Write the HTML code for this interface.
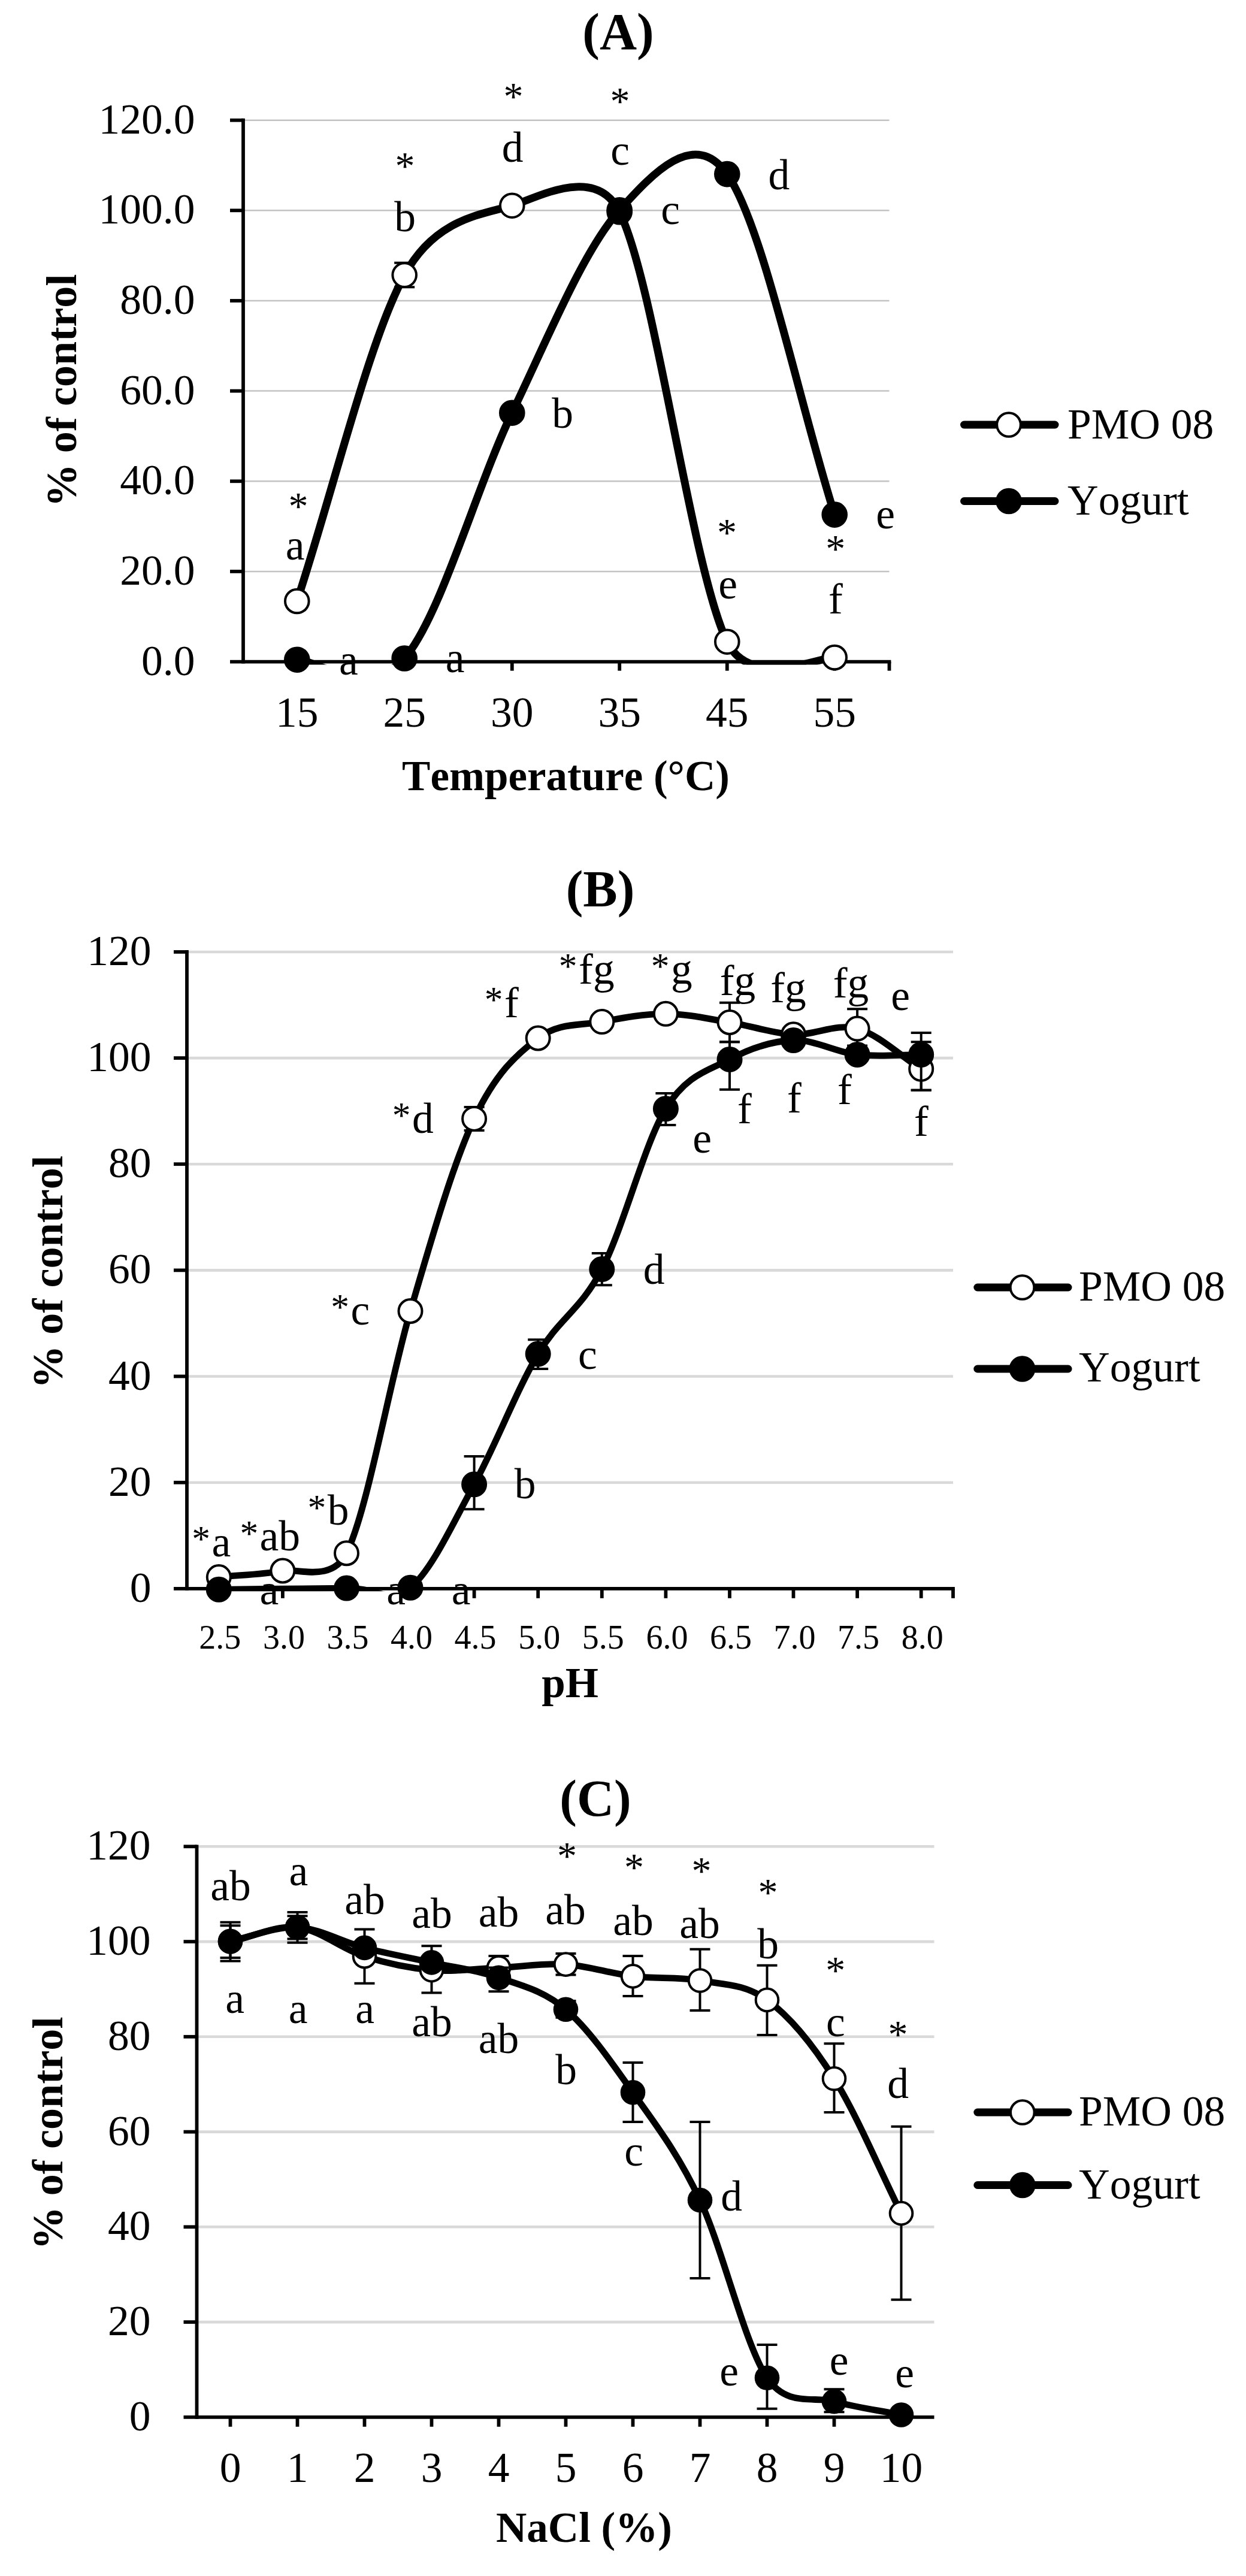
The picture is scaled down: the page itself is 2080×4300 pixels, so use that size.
<!DOCTYPE html>
<html><head><meta charset="utf-8"><title>Figure</title>
<style>
html,body{margin:0;padding:0;background:#fff;}
svg{display:block;}
text{font-family:"Liberation Serif",serif;fill:#000;font-kerning:none;}
</style></head><body>
<svg width="2080" height="4300" viewBox="0 0 2080 4300">
<rect width="2080" height="4300" fill="#fff"/>
<line x1="406.0" x2="1484.5" y1="953.9" y2="953.9" stroke="#c3c3c3" stroke-width="2.5"/>
<line x1="406.0" x2="1484.5" y1="803.3" y2="803.3" stroke="#c3c3c3" stroke-width="2.5"/>
<line x1="406.0" x2="1484.5" y1="652.6" y2="652.6" stroke="#c3c3c3" stroke-width="2.5"/>
<line x1="406.0" x2="1484.5" y1="502.0" y2="502.0" stroke="#c3c3c3" stroke-width="2.5"/>
<line x1="406.0" x2="1484.5" y1="351.3" y2="351.3" stroke="#c3c3c3" stroke-width="2.5"/>
<line x1="406.0" x2="1484.5" y1="200.7" y2="200.7" stroke="#c3c3c3" stroke-width="2.5"/>
<line x1="406.0" x2="406.0" y1="197.8" y2="1107.5" stroke="#000" stroke-width="5.8"/>
<line x1="384.0" x2="1487.4" y1="1104.6" y2="1104.6" stroke="#000" stroke-width="5.8"/>
<line x1="384.0" x2="406.0" y1="953.9" y2="953.9" stroke="#000" stroke-width="5.8"/>
<line x1="384.0" x2="406.0" y1="803.3" y2="803.3" stroke="#000" stroke-width="5.8"/>
<line x1="384.0" x2="406.0" y1="652.6" y2="652.6" stroke="#000" stroke-width="5.8"/>
<line x1="384.0" x2="406.0" y1="502.0" y2="502.0" stroke="#000" stroke-width="5.8"/>
<line x1="384.0" x2="406.0" y1="351.3" y2="351.3" stroke="#000" stroke-width="5.8"/>
<line x1="384.0" x2="406.0" y1="200.7" y2="200.7" stroke="#000" stroke-width="5.8"/>
<line x1="495.8" x2="495.8" y1="1104.6" y2="1119.6" stroke="#000" stroke-width="5.8"/>
<line x1="675.2" x2="675.2" y1="1104.6" y2="1119.6" stroke="#000" stroke-width="5.8"/>
<line x1="854.8" x2="854.8" y1="1104.6" y2="1119.6" stroke="#000" stroke-width="5.8"/>
<line x1="1034.2" x2="1034.2" y1="1104.6" y2="1119.6" stroke="#000" stroke-width="5.8"/>
<line x1="1213.8" x2="1213.8" y1="1104.6" y2="1119.6" stroke="#000" stroke-width="5.8"/>
<line x1="1393.2" x2="1393.2" y1="1104.6" y2="1119.6" stroke="#000" stroke-width="5.8"/>
<line x1="1484.5" x2="1484.5" y1="1104.6" y2="1119.6" stroke="#000" stroke-width="5.8"/>
<text x="325.4" y="1126.6" font-size="71.5" text-anchor="end">0.0</text>
<text x="325.4" y="975.9" font-size="71.5" text-anchor="end">20.0</text>
<text x="325.4" y="825.3" font-size="71.5" text-anchor="end">40.0</text>
<text x="325.4" y="674.6" font-size="71.5" text-anchor="end">60.0</text>
<text x="325.4" y="524.0" font-size="71.5" text-anchor="end">80.0</text>
<text x="325.4" y="373.3" font-size="71.5" text-anchor="end">100.0</text>
<text x="325.4" y="222.7" font-size="71.5" text-anchor="end">120.0</text>
<text x="495.8" y="1212.5" font-size="71.5" text-anchor="middle">15</text>
<text x="675.2" y="1212.5" font-size="71.5" text-anchor="middle">25</text>
<text x="854.8" y="1212.5" font-size="71.5" text-anchor="middle">30</text>
<text x="1034.2" y="1212.5" font-size="71.5" text-anchor="middle">35</text>
<text x="1213.8" y="1212.5" font-size="71.5" text-anchor="middle">45</text>
<text x="1393.2" y="1212.5" font-size="71.5" text-anchor="middle">55</text>
<clipPath id="clipA"><rect x="376.0" y="160.7" width="1137.0" height="948.7"/></clipPath>
<path d="M675.2,438.7 V479.3 M658.2,438.7 H692.2 M658.2,479.3 H692.2" stroke="#000" stroke-width="4.0" fill="none"/>
<path d="M495.75,1003.51 C555.58,822.03 615.42,569.11 675.25,459.06 C726.27,365.22 803.73,358.18 854.75,343.21 C894.52,331.55 994.48,273.13 1034.25,353.76 C1094.08,475.08 1153.92,947.20 1213.75,1071.16 C1253.18,1152.85 1373.53,1094.62 1393.25,1097.52" fill="none" stroke="#000" stroke-width="13.0" stroke-linecap="round" stroke-linejoin="round" clip-path="url(#clipA)"/>
<circle cx="495.8" cy="1003.5" r="19.8" fill="#fff" stroke="#000" stroke-width="4.0"/>
<circle cx="675.2" cy="459.1" r="19.8" fill="#fff" stroke="#000" stroke-width="4.0"/>
<circle cx="854.8" cy="343.2" r="19.8" fill="#fff" stroke="#000" stroke-width="4.0"/>
<circle cx="1034.2" cy="353.8" r="19.8" fill="#fff" stroke="#000" stroke-width="4.0"/>
<circle cx="1213.8" cy="1071.2" r="19.8" fill="#fff" stroke="#000" stroke-width="4.0"/>
<circle cx="1393.2" cy="1097.5" r="19.8" fill="#fff" stroke="#000" stroke-width="4.0"/>
<path d="M495.75,1101.21 C525.23,1100.84 616.29,1166.62 675.25,1098.95 C735.08,1030.28 794.92,813.88 854.75,689.18 C914.58,564.48 974.42,417.18 1034.25,350.75 C1088.85,290.12 1159.15,213.24 1213.75,290.56 C1273.58,375.29 1333.42,669.60 1393.25,859.12" fill="none" stroke="#000" stroke-width="13.0" stroke-linecap="round" stroke-linejoin="round" clip-path="url(#clipA)"/>
<circle cx="495.8" cy="1101.2" r="19.8" fill="#000" stroke="#000" stroke-width="4.0"/>
<circle cx="675.2" cy="1099.0" r="19.8" fill="#000" stroke="#000" stroke-width="4.0"/>
<circle cx="854.8" cy="689.2" r="19.8" fill="#000" stroke="#000" stroke-width="4.0"/>
<circle cx="1034.2" cy="350.7" r="19.8" fill="#000" stroke="#000" stroke-width="4.0"/>
<circle cx="1213.8" cy="290.6" r="19.8" fill="#000" stroke="#000" stroke-width="4.0"/>
<circle cx="1393.2" cy="859.1" r="19.8" fill="#000" stroke="#000" stroke-width="4.0"/>
<rect x="1246" y="1106.5" width="100" height="2.9" fill="#000"/>
<line x1="1609.5" x2="1761.0" y1="709.0" y2="709.0" stroke="#000" stroke-width="13.0" stroke-linecap="round"/>
<circle cx="1684.0" cy="709.0" r="19.8" fill="#fff" stroke="#000" stroke-width="4.0"/>
<text x="1782.0" y="732.0" font-size="71.5" text-anchor="start">PMO 08</text>
<line x1="1609.5" x2="1761.0" y1="836.5" y2="836.5" stroke="#000" stroke-width="13.0" stroke-linecap="round"/>
<circle cx="1684.0" cy="836.5" r="19.8" fill="#000" stroke="#000" stroke-width="4.0"/>
<text x="1782.0" y="859.0" font-size="71.5" text-anchor="start">Yogurt</text>
<text x="855.6" y="269.6" font-size="71.5" text-anchor="middle">d</text>
<text x="676.0" y="385.6" font-size="71.5" text-anchor="middle">b</text>
<text x="939.0" y="713.7" font-size="71.5" text-anchor="middle">b</text>
<text x="1035.0" y="275.0" font-size="71.5" text-anchor="middle">c</text>
<text x="1119.0" y="374.0" font-size="71.5" text-anchor="middle">c</text>
<text x="1300.4" y="315.5" font-size="71.5" text-anchor="middle">d</text>
<text x="492.5" y="933.7" font-size="71.5" text-anchor="middle">a</text>
<text x="581.8" y="1125.7" font-size="71.5" text-anchor="middle">a</text>
<text x="759.6" y="1121.5" font-size="71.5" text-anchor="middle">a</text>
<text x="1215.0" y="998.8" font-size="71.5" text-anchor="middle">e</text>
<text x="1394.8" y="1023.9" font-size="71.5" text-anchor="middle">f</text>
<text x="1478.0" y="882.0" font-size="71.5" text-anchor="middle">e</text>
<text x="857.0" y="183.0" font-size="66.0" text-anchor="middle">*</text>
<text x="676.0" y="298.6" font-size="66.0" text-anchor="middle">*</text>
<text x="1035.0" y="191.0" font-size="66.0" text-anchor="middle">*</text>
<text x="498.0" y="866.7" font-size="66.0" text-anchor="middle">*</text>
<text x="1213.6" y="911.0" font-size="66.0" text-anchor="middle">*</text>
<text x="1394.8" y="937.7" font-size="66.0" text-anchor="middle">*</text>
<text x="1032.0" y="82.0" font-size="86.0" text-anchor="middle" font-weight="bold">(A)</text>
<text x="944.5" y="1319.0" font-size="71.0" text-anchor="middle" font-weight="bold">Temperature (°C)</text>
<text transform="translate(126.5,652.0) rotate(-90)" font-size="72.2" text-anchor="middle" font-weight="bold">% of control</text>
<line x1="312.0" x2="1591.0" y1="2474.7" y2="2474.7" stroke="#d9d9d9" stroke-width="4.6"/>
<line x1="312.0" x2="1591.0" y1="2297.5" y2="2297.5" stroke="#d9d9d9" stroke-width="4.6"/>
<line x1="312.0" x2="1591.0" y1="2120.4" y2="2120.4" stroke="#d9d9d9" stroke-width="4.6"/>
<line x1="312.0" x2="1591.0" y1="1943.2" y2="1943.2" stroke="#d9d9d9" stroke-width="4.6"/>
<line x1="312.0" x2="1591.0" y1="1766.1" y2="1766.1" stroke="#d9d9d9" stroke-width="4.6"/>
<line x1="312.0" x2="1591.0" y1="1589.0" y2="1589.0" stroke="#d9d9d9" stroke-width="4.6"/>
<text x="449.3" y="2677.6" font-size="71.5" text-anchor="middle">a</text>
<text x="661.0" y="2677.6" font-size="71.5" text-anchor="middle">a</text>
<text x="769.6" y="2677.6" font-size="71.5" text-anchor="middle">a</text>
<line x1="312.0" x2="312.0" y1="1586.1" y2="2654.7" stroke="#000" stroke-width="5.8"/>
<line x1="290.0" x2="1593.9" y1="2651.8" y2="2651.8" stroke="#000" stroke-width="5.8"/>
<line x1="290.0" x2="312.0" y1="2474.7" y2="2474.7" stroke="#000" stroke-width="5.8"/>
<line x1="290.0" x2="312.0" y1="2297.5" y2="2297.5" stroke="#000" stroke-width="5.8"/>
<line x1="290.0" x2="312.0" y1="2120.4" y2="2120.4" stroke="#000" stroke-width="5.8"/>
<line x1="290.0" x2="312.0" y1="1943.2" y2="1943.2" stroke="#000" stroke-width="5.8"/>
<line x1="290.0" x2="312.0" y1="1766.1" y2="1766.1" stroke="#000" stroke-width="5.8"/>
<line x1="290.0" x2="312.0" y1="1589.0" y2="1589.0" stroke="#000" stroke-width="5.8"/>
<line x1="365.3" x2="365.3" y1="2651.8" y2="2667.8" stroke="#000" stroke-width="5.8"/>
<line x1="471.9" x2="471.9" y1="2651.8" y2="2667.8" stroke="#000" stroke-width="5.8"/>
<line x1="578.5" x2="578.5" y1="2651.8" y2="2667.8" stroke="#000" stroke-width="5.8"/>
<line x1="685.0" x2="685.0" y1="2651.8" y2="2667.8" stroke="#000" stroke-width="5.8"/>
<line x1="791.6" x2="791.6" y1="2651.8" y2="2667.8" stroke="#000" stroke-width="5.8"/>
<line x1="898.2" x2="898.2" y1="2651.8" y2="2667.8" stroke="#000" stroke-width="5.8"/>
<line x1="1004.8" x2="1004.8" y1="2651.8" y2="2667.8" stroke="#000" stroke-width="5.8"/>
<line x1="1111.4" x2="1111.4" y1="2651.8" y2="2667.8" stroke="#000" stroke-width="5.8"/>
<line x1="1218.0" x2="1218.0" y1="2651.8" y2="2667.8" stroke="#000" stroke-width="5.8"/>
<line x1="1324.5" x2="1324.5" y1="2651.8" y2="2667.8" stroke="#000" stroke-width="5.8"/>
<line x1="1431.1" x2="1431.1" y1="2651.8" y2="2667.8" stroke="#000" stroke-width="5.8"/>
<line x1="1537.7" x2="1537.7" y1="2651.8" y2="2667.8" stroke="#000" stroke-width="5.8"/>
<line x1="1591.0" x2="1591.0" y1="2651.8" y2="2667.8" stroke="#000" stroke-width="5.8"/>
<text x="252.5" y="2673.8" font-size="71.5" text-anchor="end">0</text>
<text x="252.5" y="2496.7" font-size="71.5" text-anchor="end">20</text>
<text x="252.5" y="2319.5" font-size="71.5" text-anchor="end">40</text>
<text x="252.5" y="2142.4" font-size="71.5" text-anchor="end">60</text>
<text x="252.5" y="1965.2" font-size="71.5" text-anchor="end">80</text>
<text x="252.5" y="1788.1" font-size="71.5" text-anchor="end">100</text>
<text x="252.5" y="1611.0" font-size="71.5" text-anchor="end">120</text>
<text x="367.3" y="2751.8" font-size="56.0" text-anchor="middle">2.5</text>
<text x="473.9" y="2751.8" font-size="56.0" text-anchor="middle">3.0</text>
<text x="580.5" y="2751.8" font-size="56.0" text-anchor="middle">3.5</text>
<text x="687.0" y="2751.8" font-size="56.0" text-anchor="middle">4.0</text>
<text x="793.6" y="2751.8" font-size="56.0" text-anchor="middle">4.5</text>
<text x="900.2" y="2751.8" font-size="56.0" text-anchor="middle">5.0</text>
<text x="1006.8" y="2751.8" font-size="56.0" text-anchor="middle">5.5</text>
<text x="1113.4" y="2751.8" font-size="56.0" text-anchor="middle">6.0</text>
<text x="1220.0" y="2751.8" font-size="56.0" text-anchor="middle">6.5</text>
<text x="1326.5" y="2751.8" font-size="56.0" text-anchor="middle">7.0</text>
<text x="1433.1" y="2751.8" font-size="56.0" text-anchor="middle">7.5</text>
<text x="1539.7" y="2751.8" font-size="56.0" text-anchor="middle">8.0</text>
<clipPath id="clipB"><rect x="282.0" y="1549.0" width="1339.0" height="1107.3"/></clipPath>
<path d="M791.6,1848.0 V1886.9 M774.6,1848.0 H808.6 M774.6,1886.9 H808.6" stroke="#000" stroke-width="4.0" fill="none"/>
<path d="M1218.0,1673.7 V1739.2 M1201.0,1673.7 H1235.0 M1201.0,1739.2 H1235.0" stroke="#000" stroke-width="4.0" fill="none"/>
<path d="M1431.1,1684.3 V1745.4 M1414.1,1684.3 H1448.1 M1414.1,1745.4 H1448.1" stroke="#000" stroke-width="4.0" fill="none"/>
<path d="M1537.7,1739.2 V1819.7 M1520.7,1739.2 H1554.7 M1520.7,1819.7 H1554.7" stroke="#000" stroke-width="4.0" fill="none"/>
<path d="M365.29,2632.58 C400.82,2629.04 436.35,2628.59 471.88,2621.95 C496.26,2617.39 554.07,2642.31 578.46,2592.72 C613.99,2520.48 649.51,2309.37 685.04,2188.49 C720.57,2067.61 756.10,1943.34 791.62,1867.42 C827.15,1791.50 862.68,1759.94 898.21,1732.97 C933.74,1706.01 969.26,1712.38 1004.79,1705.61 C1040.32,1698.83 1075.85,1692.17 1111.38,1692.32 C1146.90,1692.47 1182.43,1700.75 1217.96,1706.49 C1253.49,1712.23 1289.01,1725.00 1324.54,1726.77 C1360.07,1728.55 1395.60,1707.53 1431.12,1717.12 C1466.65,1726.72 1502.18,1761.94 1537.71,1784.35" fill="none" stroke="#000" stroke-width="10.8" stroke-linecap="round" stroke-linejoin="round" clip-path="url(#clipB)"/>
<circle cx="365.3" cy="2632.6" r="19.5" fill="#fff" stroke="#000" stroke-width="4.0"/>
<circle cx="471.9" cy="2622.0" r="19.5" fill="#fff" stroke="#000" stroke-width="4.0"/>
<circle cx="578.5" cy="2592.7" r="19.5" fill="#fff" stroke="#000" stroke-width="4.0"/>
<circle cx="685.0" cy="2188.5" r="19.5" fill="#fff" stroke="#000" stroke-width="4.0"/>
<circle cx="791.6" cy="1867.4" r="19.5" fill="#fff" stroke="#000" stroke-width="4.0"/>
<circle cx="898.2" cy="1733.0" r="19.5" fill="#fff" stroke="#000" stroke-width="4.0"/>
<circle cx="1004.8" cy="1705.6" r="19.5" fill="#fff" stroke="#000" stroke-width="4.0"/>
<circle cx="1111.4" cy="1692.3" r="19.5" fill="#fff" stroke="#000" stroke-width="4.0"/>
<circle cx="1218.0" cy="1706.5" r="19.5" fill="#fff" stroke="#000" stroke-width="4.0"/>
<circle cx="1324.5" cy="1726.8" r="19.5" fill="#fff" stroke="#000" stroke-width="4.0"/>
<circle cx="1431.1" cy="1717.1" r="19.5" fill="#fff" stroke="#000" stroke-width="4.0"/>
<circle cx="1537.7" cy="1784.3" r="19.5" fill="#fff" stroke="#000" stroke-width="4.0"/>
<path d="M791.6,2430.9 V2519.3 M774.6,2430.9 H808.6 M774.6,2519.3 H808.6" stroke="#000" stroke-width="4.0" fill="none"/>
<path d="M898.2,2236.3 V2284.9 M881.2,2236.3 H915.2 M881.2,2284.9 H915.2" stroke="#000" stroke-width="4.0" fill="none"/>
<path d="M1004.8,2092.1 V2145.2 M987.8,2092.1 H1021.8 M987.8,2145.2 H1021.8" stroke="#000" stroke-width="4.0" fill="none"/>
<path d="M1111.4,1825.0 V1878.1 M1094.4,1825.0 H1128.4 M1094.4,1878.1 H1128.4" stroke="#000" stroke-width="4.0" fill="none"/>
<path d="M1218.0,1739.2 V1818.8 M1201.0,1739.2 H1235.0 M1201.0,1818.8 H1235.0" stroke="#000" stroke-width="4.0" fill="none"/>
<path d="M1537.7,1724.1 V1819.7 M1520.7,1724.1 H1554.7 M1520.7,1819.7 H1554.7" stroke="#000" stroke-width="4.0" fill="none"/>
<path d="M365.29,2653.31 C436.35,2652.57 525.17,2651.61 578.46,2651.09 C631.75,2650.57 649.51,2679.09 685.04,2650.21 C720.57,2621.32 756.10,2542.77 791.62,2477.76 C827.15,2412.75 862.68,2320.00 898.21,2260.14 C933.74,2200.28 969.26,2186.85 1004.79,2118.61 C1040.32,2050.37 1075.85,1909.05 1111.38,1850.68 C1146.38,1793.18 1182.95,1787.15 1217.96,1768.40 C1253.49,1749.38 1289.01,1737.85 1324.54,1736.52 C1360.07,1735.19 1395.60,1756.45 1431.12,1760.43 C1466.65,1764.42 1502.18,1760.43 1537.71,1760.43" fill="none" stroke="#000" stroke-width="10.8" stroke-linecap="round" stroke-linejoin="round" clip-path="url(#clipB)"/>
<circle cx="365.3" cy="2653.3" r="19.5" fill="#000" stroke="#000" stroke-width="4.0"/>
<circle cx="578.5" cy="2651.1" r="19.5" fill="#000" stroke="#000" stroke-width="4.0"/>
<circle cx="685.0" cy="2650.2" r="19.5" fill="#000" stroke="#000" stroke-width="4.0"/>
<circle cx="791.6" cy="2477.8" r="19.5" fill="#000" stroke="#000" stroke-width="4.0"/>
<circle cx="898.2" cy="2260.1" r="19.5" fill="#000" stroke="#000" stroke-width="4.0"/>
<circle cx="1004.8" cy="2118.6" r="19.5" fill="#000" stroke="#000" stroke-width="4.0"/>
<circle cx="1111.4" cy="1850.7" r="19.5" fill="#000" stroke="#000" stroke-width="4.0"/>
<circle cx="1218.0" cy="1768.4" r="19.5" fill="#000" stroke="#000" stroke-width="4.0"/>
<circle cx="1324.5" cy="1736.5" r="19.5" fill="#000" stroke="#000" stroke-width="4.0"/>
<circle cx="1431.1" cy="1760.4" r="19.5" fill="#000" stroke="#000" stroke-width="4.0"/>
<circle cx="1537.7" cy="1760.4" r="19.5" fill="#000" stroke="#000" stroke-width="4.0"/>
<line x1="1631.8" x2="1783.0" y1="2149.0" y2="2149.0" stroke="#000" stroke-width="13.0" stroke-linecap="round"/>
<circle cx="1706.5" cy="2149.0" r="19.8" fill="#fff" stroke="#000" stroke-width="4.0"/>
<text x="1801.0" y="2171.0" font-size="71.5" text-anchor="start">PMO 08</text>
<line x1="1631.8" x2="1783.0" y1="2285.0" y2="2285.0" stroke="#000" stroke-width="13.0" stroke-linecap="round"/>
<circle cx="1706.5" cy="2285.0" r="19.8" fill="#000" stroke="#000" stroke-width="4.0"/>
<text x="1801.0" y="2306.0" font-size="71.5" text-anchor="start">Yogurt</text>
<text x="948.2" y="1633.3" font-size="61.5" text-anchor="middle">*</text>
<text x="966.1" y="1642.0" font-size="71.5" text-anchor="start">fg</text>
<text x="824.1" y="1689.3" font-size="61.5" text-anchor="middle">*</text>
<text x="842.0" y="1698.0" font-size="71.5" text-anchor="start">f</text>
<text x="670.1" y="1882.1" font-size="61.5" text-anchor="middle">*</text>
<text x="688.0" y="1890.8" font-size="71.5" text-anchor="start">d</text>
<text x="1102.1" y="1633.3" font-size="61.5" text-anchor="middle">*</text>
<text x="1120.0" y="1642.0" font-size="71.5" text-anchor="start">g</text>
<text x="1231.5" y="1660.5" font-size="71.5" text-anchor="middle">fg</text>
<text x="1316.0" y="1672.8" font-size="71.5" text-anchor="middle">fg</text>
<text x="1420.5" y="1664.6" font-size="71.5" text-anchor="middle">fg</text>
<text x="1503.0" y="1685.8" font-size="71.5" text-anchor="middle">e</text>
<text x="1172.0" y="1923.7" font-size="71.5" text-anchor="middle">e</text>
<text x="1243.0" y="1874.6" font-size="71.5" text-anchor="middle">f</text>
<text x="1326.0" y="1857.0" font-size="71.5" text-anchor="middle">f</text>
<text x="1410.0" y="1843.0" font-size="71.5" text-anchor="middle">f</text>
<text x="1538.0" y="1895.5" font-size="71.5" text-anchor="middle">f</text>
<text x="1091.7" y="2143.4" font-size="71.5" text-anchor="middle">d</text>
<text x="567.6" y="2202.3" font-size="61.5" text-anchor="middle">*</text>
<text x="585.5" y="2211.0" font-size="71.5" text-anchor="start">c</text>
<text x="980.8" y="2285.0" font-size="71.5" text-anchor="middle">c</text>
<text x="876.5" y="2500.7" font-size="71.5" text-anchor="middle">b</text>
<text x="528.8" y="2536.7" font-size="61.5" text-anchor="middle">*</text>
<text x="546.7" y="2545.4" font-size="71.5" text-anchor="start">b</text>
<text x="335.7" y="2589.0" font-size="61.5" text-anchor="middle">*</text>
<text x="353.6" y="2597.7" font-size="71.5" text-anchor="start">a</text>
<text x="415.8" y="2579.6" font-size="61.5" text-anchor="middle">*</text>
<text x="433.6" y="2588.3" font-size="71.5" text-anchor="start">ab</text>
<text x="1002.0" y="1512.7" font-size="86.0" text-anchor="middle" font-weight="bold">(B)</text>
<text x="951.6" y="2833.4" font-size="71.0" text-anchor="middle" font-weight="bold">pH</text>
<text transform="translate(104.0,2123.5) rotate(-90)" font-size="72.2" text-anchor="middle" font-weight="bold">% of control</text>
<line x1="328.5" x2="1559.5" y1="3876.1" y2="3876.1" stroke="#d9d9d9" stroke-width="4.6"/>
<line x1="328.5" x2="1559.5" y1="3717.3" y2="3717.3" stroke="#d9d9d9" stroke-width="4.6"/>
<line x1="328.5" x2="1559.5" y1="3558.6" y2="3558.6" stroke="#d9d9d9" stroke-width="4.6"/>
<line x1="328.5" x2="1559.5" y1="3399.8" y2="3399.8" stroke="#d9d9d9" stroke-width="4.6"/>
<line x1="328.5" x2="1559.5" y1="3241.1" y2="3241.1" stroke="#d9d9d9" stroke-width="4.6"/>
<line x1="328.5" x2="1559.5" y1="3082.3" y2="3082.3" stroke="#d9d9d9" stroke-width="4.6"/>
<line x1="328.5" x2="328.5" y1="3079.4" y2="4037.7" stroke="#000" stroke-width="5.8"/>
<line x1="306.5" x2="1559.5" y1="4034.8" y2="4034.8" stroke="#000" stroke-width="5.8"/>
<line x1="306.5" x2="328.5" y1="3876.1" y2="3876.1" stroke="#000" stroke-width="5.8"/>
<line x1="306.5" x2="328.5" y1="3717.3" y2="3717.3" stroke="#000" stroke-width="5.8"/>
<line x1="306.5" x2="328.5" y1="3558.6" y2="3558.6" stroke="#000" stroke-width="5.8"/>
<line x1="306.5" x2="328.5" y1="3399.8" y2="3399.8" stroke="#000" stroke-width="5.8"/>
<line x1="306.5" x2="328.5" y1="3241.1" y2="3241.1" stroke="#000" stroke-width="5.8"/>
<line x1="306.5" x2="328.5" y1="3082.3" y2="3082.3" stroke="#000" stroke-width="5.8"/>
<line x1="384.5" x2="384.5" y1="4034.8" y2="4050.8" stroke="#000" stroke-width="5.8"/>
<line x1="496.5" x2="496.5" y1="4034.8" y2="4050.8" stroke="#000" stroke-width="5.8"/>
<line x1="608.5" x2="608.5" y1="4034.8" y2="4050.8" stroke="#000" stroke-width="5.8"/>
<line x1="720.5" x2="720.5" y1="4034.8" y2="4050.8" stroke="#000" stroke-width="5.8"/>
<line x1="832.5" x2="832.5" y1="4034.8" y2="4050.8" stroke="#000" stroke-width="5.8"/>
<line x1="944.5" x2="944.5" y1="4034.8" y2="4050.8" stroke="#000" stroke-width="5.8"/>
<line x1="1056.5" x2="1056.5" y1="4034.8" y2="4050.8" stroke="#000" stroke-width="5.8"/>
<line x1="1168.5" x2="1168.5" y1="4034.8" y2="4050.8" stroke="#000" stroke-width="5.8"/>
<line x1="1280.5" x2="1280.5" y1="4034.8" y2="4050.8" stroke="#000" stroke-width="5.8"/>
<line x1="1392.5" x2="1392.5" y1="4034.8" y2="4050.8" stroke="#000" stroke-width="5.8"/>
<line x1="1504.5" x2="1504.5" y1="4034.8" y2="4050.8" stroke="#000" stroke-width="5.8"/>
<text x="251.5" y="4056.8" font-size="71.5" text-anchor="end">0</text>
<text x="251.5" y="3898.1" font-size="71.5" text-anchor="end">20</text>
<text x="251.5" y="3739.3" font-size="71.5" text-anchor="end">40</text>
<text x="251.5" y="3580.6" font-size="71.5" text-anchor="end">60</text>
<text x="251.5" y="3421.8" font-size="71.5" text-anchor="end">80</text>
<text x="251.5" y="3263.1" font-size="71.5" text-anchor="end">100</text>
<text x="251.5" y="3104.3" font-size="71.5" text-anchor="end">120</text>
<text x="384.5" y="4142.5" font-size="71.5" text-anchor="middle">0</text>
<text x="496.5" y="4142.5" font-size="71.5" text-anchor="middle">1</text>
<text x="608.5" y="4142.5" font-size="71.5" text-anchor="middle">2</text>
<text x="720.5" y="4142.5" font-size="71.5" text-anchor="middle">3</text>
<text x="832.5" y="4142.5" font-size="71.5" text-anchor="middle">4</text>
<text x="944.5" y="4142.5" font-size="71.5" text-anchor="middle">5</text>
<text x="1056.5" y="4142.5" font-size="71.5" text-anchor="middle">6</text>
<text x="1168.5" y="4142.5" font-size="71.5" text-anchor="middle">7</text>
<text x="1280.5" y="4142.5" font-size="71.5" text-anchor="middle">8</text>
<text x="1392.5" y="4142.5" font-size="71.5" text-anchor="middle">9</text>
<text x="1504.5" y="4142.5" font-size="71.5" text-anchor="middle">10</text>
<clipPath id="clipC"><rect x="298.5" y="3042.3" width="1292.0" height="997.0"/></clipPath>
<path d="M384.5,3208.7 V3273.5 M367.5,3208.7 H401.5 M367.5,3273.5 H401.5" stroke="#000" stroke-width="4.0" fill="none"/>
<path d="M496.5,3192.0 V3242.7 M479.5,3192.0 H513.5 M479.5,3242.7 H513.5" stroke="#000" stroke-width="4.0" fill="none"/>
<path d="M608.5,3220.5 V3310.7 M591.5,3220.5 H625.5 M591.5,3310.7 H625.5" stroke="#000" stroke-width="4.0" fill="none"/>
<path d="M720.5,3248.2 V3326.6 M703.5,3248.2 H737.5 M703.5,3326.6 H737.5" stroke="#000" stroke-width="4.0" fill="none"/>
<path d="M832.5,3264.9 V3296.5 M815.5,3264.9 H849.5 M815.5,3296.5 H849.5" stroke="#000" stroke-width="4.0" fill="none"/>
<path d="M944.5,3260.9 V3296.5 M927.5,3260.9 H961.5 M927.5,3296.5 H961.5" stroke="#000" stroke-width="4.0" fill="none"/>
<path d="M1056.5,3264.9 V3332.1 M1039.5,3264.9 H1073.5 M1039.5,3332.1 H1073.5" stroke="#000" stroke-width="4.0" fill="none"/>
<path d="M1168.5,3253.8 V3355.9 M1151.5,3253.8 H1185.5 M1151.5,3355.9 H1185.5" stroke="#000" stroke-width="4.0" fill="none"/>
<path d="M1280.5,3280.7 V3397.0 M1263.5,3280.7 H1297.5 M1263.5,3397.0 H1297.5" stroke="#000" stroke-width="4.0" fill="none"/>
<path d="M1392.5,3411.3 V3526.0 M1375.5,3411.3 H1409.5 M1375.5,3526.0 H1409.5" stroke="#000" stroke-width="4.0" fill="none"/>
<path d="M1504.5,3549.8 V3838.7 M1487.5,3549.8 H1521.5 M1487.5,3838.7 H1521.5" stroke="#000" stroke-width="4.0" fill="none"/>
<path d="M384.50,3241.13 C421.83,3233.19 459.17,3213.23 496.50,3217.32 C533.83,3221.40 571.17,3253.78 608.50,3265.66 C645.83,3277.54 683.17,3285.43 720.50,3288.60 C757.83,3291.76 795.17,3286.21 832.50,3284.63 C869.83,3283.04 907.17,3276.69 944.50,3279.07 C981.83,3281.45 1019.17,3294.43 1056.50,3298.91 C1093.83,3303.40 1131.17,3299.39 1168.50,3305.98 C1205.83,3312.57 1243.17,3311.14 1280.50,3338.44 C1317.83,3365.75 1355.17,3410.45 1392.50,3469.81 C1429.83,3529.17 1467.17,3619.67 1504.50,3694.60" fill="none" stroke="#000" stroke-width="10.8" stroke-linecap="round" stroke-linejoin="round" clip-path="url(#clipC)"/>
<circle cx="384.5" cy="3241.1" r="18.8" fill="#fff" stroke="#000" stroke-width="4.0"/>
<circle cx="496.5" cy="3217.3" r="18.8" fill="#fff" stroke="#000" stroke-width="4.0"/>
<circle cx="608.5" cy="3265.7" r="18.8" fill="#fff" stroke="#000" stroke-width="4.0"/>
<circle cx="720.5" cy="3288.6" r="18.8" fill="#fff" stroke="#000" stroke-width="4.0"/>
<circle cx="832.5" cy="3284.6" r="18.8" fill="#fff" stroke="#000" stroke-width="4.0"/>
<circle cx="944.5" cy="3279.1" r="18.8" fill="#fff" stroke="#000" stroke-width="4.0"/>
<circle cx="1056.5" cy="3298.9" r="18.8" fill="#fff" stroke="#000" stroke-width="4.0"/>
<circle cx="1168.5" cy="3306.0" r="18.8" fill="#fff" stroke="#000" stroke-width="4.0"/>
<circle cx="1280.5" cy="3338.4" r="18.8" fill="#fff" stroke="#000" stroke-width="4.0"/>
<circle cx="1392.5" cy="3469.8" r="18.8" fill="#fff" stroke="#000" stroke-width="4.0"/>
<circle cx="1504.5" cy="3694.6" r="18.8" fill="#fff" stroke="#000" stroke-width="4.0"/>
<path d="M384.5,3214.2 V3268.0 M367.5,3214.2 H401.5 M367.5,3268.0 H401.5" stroke="#000" stroke-width="4.0" fill="none"/>
<path d="M496.5,3198.3 V3236.4 M479.5,3198.3 H513.5 M479.5,3236.4 H513.5" stroke="#000" stroke-width="4.0" fill="none"/>
<path d="M832.5,3284.6 V3324.2 M815.5,3284.6 H849.5 M815.5,3324.2 H849.5" stroke="#000" stroke-width="4.0" fill="none"/>
<path d="M944.5,3340.0 V3367.7 M927.5,3340.0 H961.5 M927.5,3367.7 H961.5" stroke="#000" stroke-width="4.0" fill="none"/>
<path d="M1056.5,3442.9 V3541.9 M1039.5,3442.9 H1073.5 M1039.5,3541.9 H1073.5" stroke="#000" stroke-width="4.0" fill="none"/>
<path d="M1168.5,3541.9 V3803.1 M1151.5,3541.9 H1185.5 M1151.5,3803.1 H1185.5" stroke="#000" stroke-width="4.0" fill="none"/>
<path d="M1280.5,3913.9 V4020.8 M1263.5,3913.9 H1297.5 M1263.5,4020.8 H1297.5" stroke="#000" stroke-width="4.0" fill="none"/>
<path d="M1392.5,3988.3 V4026.3 M1375.5,3988.3 H1409.5 M1375.5,4026.3 H1409.5" stroke="#000" stroke-width="4.0" fill="none"/>
<path d="M384.50,3240.34 C421.83,3232.66 459.17,3215.48 496.50,3217.32 C533.83,3219.16 571.17,3241.61 608.50,3251.37 C645.83,3261.13 683.17,3267.59 720.50,3275.90 C757.83,3284.20 795.17,3288.15 832.50,3301.22 C869.83,3314.29 907.17,3322.38 944.50,3354.32 C981.83,3386.25 1019.17,3439.81 1056.50,3492.83 C1093.83,3545.85 1131.17,3593.04 1168.50,3672.45 C1205.83,3751.87 1243.17,3913.29 1280.50,3969.32 C1313.41,4018.70 1359.59,3999.55 1392.50,4008.61 C1429.83,4018.89 1467.17,4023.53 1504.50,4030.99" fill="none" stroke="#000" stroke-width="10.8" stroke-linecap="round" stroke-linejoin="round" clip-path="url(#clipC)"/>
<circle cx="384.5" cy="3240.3" r="18.8" fill="#000" stroke="#000" stroke-width="4.0"/>
<circle cx="496.5" cy="3217.3" r="18.8" fill="#000" stroke="#000" stroke-width="4.0"/>
<circle cx="608.5" cy="3251.4" r="18.8" fill="#000" stroke="#000" stroke-width="4.0"/>
<circle cx="720.5" cy="3275.9" r="18.8" fill="#000" stroke="#000" stroke-width="4.0"/>
<circle cx="832.5" cy="3301.2" r="18.8" fill="#000" stroke="#000" stroke-width="4.0"/>
<circle cx="944.5" cy="3354.3" r="18.8" fill="#000" stroke="#000" stroke-width="4.0"/>
<circle cx="1056.5" cy="3492.8" r="18.8" fill="#000" stroke="#000" stroke-width="4.0"/>
<circle cx="1168.5" cy="3672.5" r="18.8" fill="#000" stroke="#000" stroke-width="4.0"/>
<circle cx="1280.5" cy="3969.3" r="18.8" fill="#000" stroke="#000" stroke-width="4.0"/>
<circle cx="1392.5" cy="4008.6" r="18.8" fill="#000" stroke="#000" stroke-width="4.0"/>
<circle cx="1504.5" cy="4031.0" r="18.8" fill="#000" stroke="#000" stroke-width="4.0"/>
<line x1="1631.8" x2="1783.0" y1="3526.0" y2="3526.0" stroke="#000" stroke-width="13.0" stroke-linecap="round"/>
<circle cx="1706.8" cy="3526.0" r="19.8" fill="#fff" stroke="#000" stroke-width="4.0"/>
<text x="1801.0" y="3547.6" font-size="71.5" text-anchor="start">PMO 08</text>
<line x1="1631.8" x2="1783.0" y1="3647.5" y2="3647.5" stroke="#000" stroke-width="13.0" stroke-linecap="round"/>
<circle cx="1706.8" cy="3647.5" r="19.8" fill="#000" stroke="#000" stroke-width="4.0"/>
<text x="1801.0" y="3669.5" font-size="71.5" text-anchor="start">Yogurt</text>
<text x="385.0" y="3172.3" font-size="71.5" text-anchor="middle">ab</text>
<text x="498.3" y="3147.2" font-size="71.5" text-anchor="middle">a</text>
<text x="609.0" y="3194.8" font-size="71.5" text-anchor="middle">ab</text>
<text x="721.0" y="3218.2" font-size="71.5" text-anchor="middle">ab</text>
<text x="832.5" y="3215.5" font-size="71.5" text-anchor="middle">ab</text>
<text x="944.0" y="3211.5" font-size="71.5" text-anchor="middle">ab</text>
<text x="392.0" y="3360.1" font-size="71.5" text-anchor="middle">a</text>
<text x="497.5" y="3376.8" font-size="71.5" text-anchor="middle">a</text>
<text x="609.0" y="3376.8" font-size="71.5" text-anchor="middle">a</text>
<text x="721.0" y="3399.3" font-size="71.5" text-anchor="middle">ab</text>
<text x="832.5" y="3426.9" font-size="71.5" text-anchor="middle">ab</text>
<text x="945.0" y="3478.5" font-size="71.5" text-anchor="middle">b</text>
<text x="1057.0" y="3229.9" font-size="71.5" text-anchor="middle">ab</text>
<text x="1168.0" y="3234.9" font-size="71.5" text-anchor="middle">ab</text>
<text x="1282.0" y="3269.0" font-size="71.5" text-anchor="middle">b</text>
<text x="1394.8" y="3399.3" font-size="71.5" text-anchor="middle">c</text>
<text x="1499.0" y="3502.0" font-size="71.5" text-anchor="middle">d</text>
<text x="1058.0" y="3615.2" font-size="71.5" text-anchor="middle">c</text>
<text x="1221.0" y="3690.3" font-size="71.5" text-anchor="middle">d</text>
<text x="1217.0" y="3982.0" font-size="71.5" text-anchor="middle">e</text>
<text x="1400.6" y="3963.5" font-size="71.5" text-anchor="middle">e</text>
<text x="1510.0" y="3984.5" font-size="71.5" text-anchor="middle">e</text>
<text x="946.5" y="3119.5" font-size="66.0" text-anchor="middle">*</text>
<text x="1058.5" y="3139.0" font-size="66.0" text-anchor="middle">*</text>
<text x="1171.0" y="3145.0" font-size="66.0" text-anchor="middle">*</text>
<text x="1282.0" y="3181.0" font-size="66.0" text-anchor="middle">*</text>
<text x="1394.8" y="3310.6" font-size="66.0" text-anchor="middle">*</text>
<text x="1499.0" y="3417.5" font-size="66.0" text-anchor="middle">*</text>
<text x="994.0" y="3031.2" font-size="86.0" text-anchor="middle" font-weight="bold">(C)</text>
<text x="975.0" y="4243.0" font-size="71.0" text-anchor="middle" font-weight="bold">NaCl (%)</text>
<text transform="translate(104.0,3561.0) rotate(-90)" font-size="72.2" text-anchor="middle" font-weight="bold">% of control</text>
</svg>
</body></html>
